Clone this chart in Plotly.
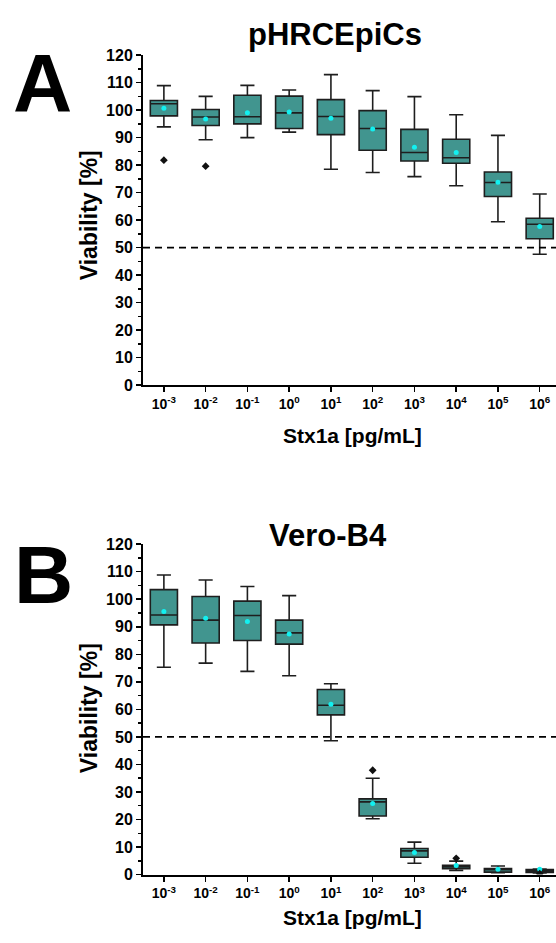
import plotly.graph_objects as go

# ---------------- data ----------------
exponents = [-3, -2, -1, 0, 1, 2, 3, 4, 5, 6]
tick_labels = [f"10<sup>{e}</sup>" for e in exponents]
positions = list(range(len(exponents)))

# Panel A: pHRCEpiCs
A_upper = [108.9, 105.0, 109.0, 107.3, 112.9, 107.1, 104.9, 98.3, 90.8, 69.5]
A_q3 = [103.5, 100.2, 105.4, 105.1, 103.8, 99.8, 93.0, 89.4, 77.5, 60.7]
A_median = [102.3, 97.5, 97.6, 99.0, 97.7, 93.3, 84.6, 82.7, 73.7, 58.5]
A_q1 = [97.9, 94.4, 95.0, 93.3, 91.1, 85.4, 81.5, 80.7, 68.6, 53.2]
A_lower = [93.9, 89.2, 90.0, 92.0, 78.5, 77.3, 75.8, 72.5, 59.4, 47.6]
A_mean = [100.7, 96.8, 99.0, 99.3, 97.0, 93.1, 86.5, 84.6, 73.8, 57.7]
A_out_x = [0, 1]
A_out_y = [81.8, 79.6]

# Panel B: Vero-B4
B_upper = [108.8, 107.0, 104.6, 101.3, 69.3, 35.0, 11.8, 4.9, 3.1, 2.0]
B_q3 = [103.5, 101.0, 99.3, 92.4, 67.2, 27.5, 9.5, 3.4, 2.2, 1.8]
B_median = [94.3, 92.4, 94.1, 87.8, 61.5, 26.4, 8.6, 2.8, 1.8, 1.3]
B_q1 = [90.7, 84.1, 85.0, 83.7, 58.0, 21.3, 6.3, 2.1, 0.9, 0.8]
B_lower = [75.3, 76.8, 73.8, 72.2, 48.6, 20.3, 4.1, 1.5, 0.7, 0.6]
B_mean = [95.5, 93.1, 91.9, 87.4, 61.9, 25.8, 8.0, 3.3, 1.9, 1.9]
B_out_x = [5, 7, 9]
B_out_y = [37.9, 5.9, 0.3]

titles = ["pHRCEpiCs", "Vero-B4"]
panel_letters = ["A", "B"]
x_title = "Stx1a [pg/mL]"
y_title = "Viability [%]"

# ---------------- style ----------------
W, H = 556, 943
FILL = "#41958f"
EDGE = "#1e1e1e"
MEAN_C = "#12f0f0"
FONT = "Liberation Sans, Arial, sans-serif"


def px(x):
    return x / W


def py(y):
    return 1 - y / H


fig = go.Figure()

panels = [
    dict(up=A_upper, q3=A_q3, med=A_median, q1=A_q1, lo=A_lower, mean=A_mean,
         ox=A_out_x, oy=A_out_y, xa="x", ya="y"),
    dict(up=B_upper, q3=B_q3, med=B_median, q1=B_q1, lo=B_lower, mean=B_mean,
         ox=B_out_x, oy=B_out_y, xa="x2", ya="y2"),
]

for p in panels:
    fig.add_trace(go.Box(
        x=positions, q1=p["q1"], median=p["med"], q3=p["q3"],
        lowerfence=p["lo"], upperfence=p["up"],
        boxpoints=False, width=0.65, whiskerwidth=0.52,
        fillcolor=FILL, line=dict(color=EDGE, width=1.6),
        xaxis=p["xa"], yaxis=p["ya"], showlegend=False, hoverinfo="skip",
    ))
    fig.add_trace(go.Scatter(
        x=positions, y=p["mean"], mode="markers",
        marker=dict(color=MEAN_C, size=5, symbol="circle"),
        xaxis=p["xa"], yaxis=p["ya"], showlegend=False, hoverinfo="skip",
    ))
    fig.add_trace(go.Scatter(
        x=p["ox"], y=p["oy"], mode="markers",
        marker=dict(color="#111111", size=6, symbol="diamond"),
        xaxis=p["xa"], yaxis=p["ya"], showlegend=False, hoverinfo="skip",
    ))

x_dom = [px(143), 1.0]
y_doms = [[py(384), py(48)], [py(882.5), py(546)]]

axis_common_x = dict(
    range=[-0.5, 9.39], tickmode="array", tickvals=positions, ticktext=tick_labels,
    showline=True, linecolor="black", linewidth=2, ticks="outside", ticklen=5,
    tickwidth=1.5, tickcolor="black", showgrid=False, zeroline=False,
    tickfont=dict(family=FONT, size=14, color="black", weight="bold"),
    domain=x_dom,
)
axis_common_y = dict(
    range=[0, 120], tickmode="linear", tick0=0, dtick=10,
    showline=True, linecolor="black", linewidth=2, ticks="outside", ticklen=5,
    tickwidth=1.5, tickcolor="black", showgrid=False, zeroline=False,
    tickfont=dict(family=FONT, size=16, color="black", weight="bold"),
    minor=dict(ticks="outside", ticklen=3, tickwidth=1.5, tickcolor="black", dtick=5),
)

fig.update_layout(
    width=W, height=H, margin=dict(l=0, r=0, t=0, b=0),
    paper_bgcolor="white", plot_bgcolor="white",
    xaxis=dict(**axis_common_x, anchor="y"),
    yaxis=dict(**axis_common_y, domain=y_doms[0], anchor="x"),
    xaxis2=dict(**axis_common_x, anchor="y2"),
    yaxis2=dict(**axis_common_y, domain=y_doms[1], anchor="x2"),
)

# dashed 50% lines
for ya in ["y", "y2"]:
    fig.add_shape(type="line", xref="paper", x0=x_dom[0], x1=1.0, yref=ya, y0=50, y1=50,
                  line=dict(color="black", width=1.6, dash="7px,5px"))

# annotations
ann = []
title_pos = [(335, 27), (328, 537)]
letter_pos = [(42, 76), (43, 577)]
xt_pos = [(352, 435), (352, 926)]
yt_pos = [(89, 211), (89, 713)]


def add_text(text, pos, size, angle=0):
    ann.append(dict(text=text, x=px(pos[0]), y=py(pos[1]), xref="paper", yref="paper",
                    xanchor="center", yanchor="middle", showarrow=False, textangle=angle,
                    font=dict(family=FONT, size=size, color="black", weight="bold")))


for i in range(2):
    add_text(titles[i], title_pos[i], 31)
    add_text(panel_letters[i], letter_pos[i], 82)
    add_text(x_title, xt_pos[i], 21)
    add_text(y_title, yt_pos[i], 23, angle=-90)
fig.update_layout(annotations=ann)

fig.write_html(
    "out.html",
    config={"displayModeBar": False, "staticPlot": True},
    post_script="document.body.style.margin='0';document.body.style.overflow='hidden';",
)
